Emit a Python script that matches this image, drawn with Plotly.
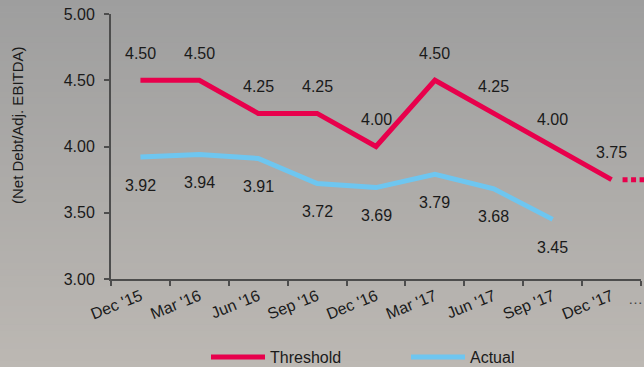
import plotly.graph_objects as go

# Quarter labels and leverage values
quarters = ["Dec '15", "Mar '16", "Jun '16", "Sep '16", "Dec '16",
            "Mar '17", "Jun '17", "Sep '17", "Dec '17"]
continuation = "…"
threshold = [4.50, 4.50, 4.25, 4.25, 4.00, 4.50, 4.25, 4.00, 3.75]
actual = [3.92, 3.94, 3.91, 3.72, 3.69, 3.79, 3.68, 3.45]
y_ticks = [3.00, 3.50, 4.00, 4.50, 5.00]

RED = "#e8004c"
BLUE = "#6ec6f0"
TXT = "#1a1a1a"
AXIS = "#4d4d4d"
FONT = "Liberation Sans, Arial, sans-serif"

W, H = 644, 367
ML, MR, MT, MB = 111, 0, 14, 88
plot_w = W - ML - MR
plot_h = H - MT - MB
axis_right_px = 641
main_dom = (axis_right_px - ML) / plot_w
n = len(quarters)
unit_px = (axis_right_px - ML) / n
ext_range = [-0.5, -0.5 + plot_w / unit_px]
bottom_px = H - MB


def px_x(px):
    return (px - ML) / plot_w


def px_y(py):
    return (bottom_px - py) / plot_h


fig = go.Figure()

fig.add_trace(go.Scatter(
    x=quarters, y=threshold, mode="lines", name="Threshold",
    line=dict(color=RED, width=5), xaxis="x", yaxis="y", legend="legend",
))
fig.add_trace(go.Scatter(
    x=quarters[:len(actual)], y=actual, mode="lines", name="Actual",
    line=dict(color=BLUE, width=5), xaxis="x", yaxis="y", legend="legend2",
))
# dotted continuation of the threshold beyond the last quarter
fig.add_trace(go.Scatter(
    x=[quarters[-1], continuation], y=[threshold[-1], threshold[-1]],
    mode="lines", showlegend=False, hoverinfo="skip",
    line=dict(color=RED, width=5, dash="0px,11px,5px,3.5px,5px,3.5px,5px,3.5px"),
    xaxis="x2", yaxis="y",
))

# value labels
for q, v in zip(quarters, threshold):
    fig.add_annotation(x=q, y=v, text=f"{v:.2f}", showarrow=False,
                       yshift=27, font=dict(size=16, color=TXT, family=FONT))
for q, v in zip(quarters, actual):
    fig.add_annotation(x=q, y=v, text=f"{v:.2f}", showarrow=False,
                       yshift=-28, font=dict(size=16, color=TXT, family=FONT))

# axis title and trailing ellipsis
fig.add_annotation(xref="paper", yref="paper", x=px_x(17), y=px_y(125),
                   xanchor="center", yanchor="middle",
                   text="(Net Debt/Adj. EBITDA)", textangle=-90,
                   showarrow=False, font=dict(size=15, color=TXT, family=FONT))
fig.add_annotation(xref="paper", yref="paper", x=px_x(635), y=px_y(298),
                   xanchor="center", yanchor="middle", text=continuation,
                   showarrow=False, font=dict(size=15, color="#444444", family=FONT))

# vertical gradient background as thin bands
top_c = (158, 158, 158)
bot_c = (188, 184, 179)
bands = 60
for i in range(bands):
    t = (i + 0.5) / bands
    c = tuple(round(top_c[k] + (bot_c[k] - top_c[k]) * t) for k in range(3))
    py0 = H * i / bands
    py1 = H * (i + 1) / bands + 0.6
    fig.add_shape(type="rect", xref="paper", yref="paper", layer="below",
                  x0=px_x(-2), x1=px_x(W + 2), y0=px_y(py1), y1=px_y(py0),
                  line=dict(width=0), fillcolor=f"rgb{c}")

legend_common = dict(orientation="h", xref="container", yref="container",
                     xanchor="left", yanchor="middle", itemwidth=54,
                     font=dict(size=16, color=TXT, family=FONT),
                     bgcolor="rgba(0,0,0,0)")

fig.update_layout(
    width=W, height=H,
    margin=dict(l=ML, r=MR, t=MT, b=MB),
    paper_bgcolor="#acacac", plot_bgcolor="rgba(0,0,0,0)",
    font=dict(family=FONT, size=15, color=TXT),
    showlegend=True,
    legend=dict(x=206 / W, y=(H - 357) / H, **legend_common),
    legend2=dict(x=406 / W, y=(H - 357) / H, **legend_common),
    xaxis=dict(type="category", categoryorder="array", categoryarray=quarters,
               domain=[0, main_dom], range=[-0.5, n - 0.5], anchor="y",
               tickson="boundaries", ticks="outside", ticklen=5, tickwidth=2,
               tickcolor=AXIS, showline=True, linewidth=2,
               linecolor=AXIS, showgrid=False, zeroline=False,
               tickangle=-22, tickfont=dict(size=16, color=TXT, family=FONT)),
    xaxis2=dict(type="category", categoryorder="array",
                categoryarray=quarters + [continuation],
                domain=[0, 1], range=ext_range, anchor="y", visible=False),
    yaxis=dict(range=[3, 5], tickvals=y_ticks,
               ticktext=[f"{v:.2f}" for v in y_ticks],
               ticks="outside", ticklen=5, tickwidth=2, tickcolor=AXIS,
               ticklabelstandoff=6,
               showline=True, linewidth=2, linecolor=AXIS,
               showgrid=False, zeroline=False, anchor="x",
               tickfont=dict(size=16, color=TXT, family=FONT)),
)

fig.write_html("out.html")
